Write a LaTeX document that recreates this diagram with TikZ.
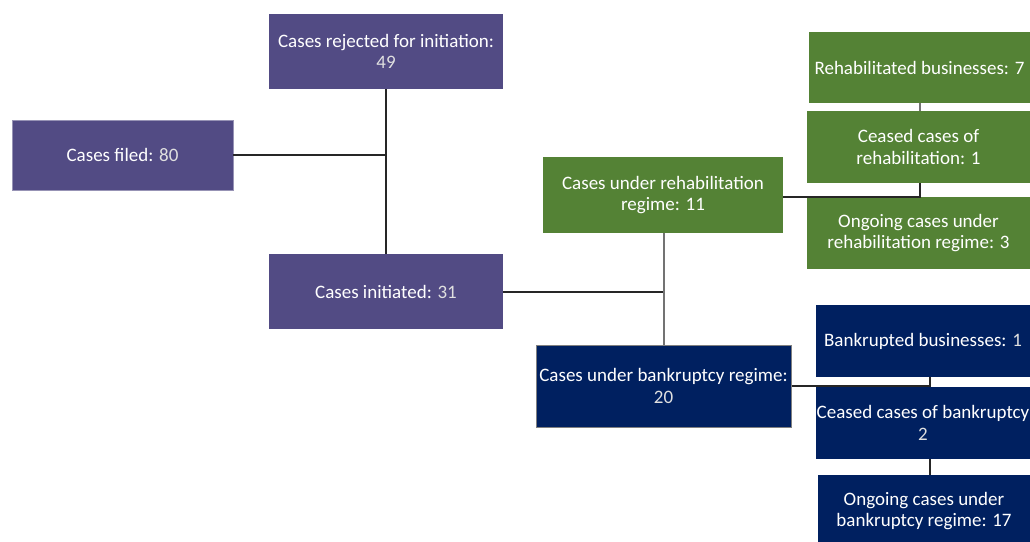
\documentclass[tikz,border=0pt]{standalone}
\usepackage{fontspec}
\setmainfont{Carlito}
\definecolor{cpurple}{HTML}{524B84}
\definecolor{cgreen}{HTML}{548235}
\definecolor{cnavy}{HTML}{002060}
\tikzset{
  box/.style={rectangle, inner sep=0pt, text=white, align=center,
    font=\fontsize{19}{21.5}\selectfont},
  pbox/.style={box, fill=cpurple},
  gbox/.style={box, fill=cgreen},
  nbox/.style={box, fill=cnavy},
  conn/.style={line width=1.3pt, black!85},
  gconn/.style={line width=1.3pt, black!55},
}
\newcommand{\num}[1]{\textcolor{white!88!black}{#1}}
\begin{document}
\begin{tikzpicture}[x=1pt,y=-1pt]
\useasboundingbox (0,0) rectangle (1030,541);
\node[pbox, minimum width=221pt, minimum height=70pt, draw=cpurple!60!white, line width=0.6pt] (filed) at (122.5,155) {Cases filed: \num{80}};
\node[pbox, minimum width=234pt, minimum height=75pt] (rej) at (386,51.5) {Cases rejected for initiation:\\\num{49}};
\node[pbox, minimum width=234pt, minimum height=75pt] (ini) at (386,291.5) {Cases initiated: \num{31}};
\node[gbox, minimum width=240pt, minimum height=76pt] (rehab) at (663,195) {Cases under rehabilitation\\regime: 11};
\node[nbox, minimum width=255pt, minimum height=82pt, draw=black!50, line width=1pt] (bank) at (663.5,386) {Cases under bankruptcy regime:\\\num{20}};
\node[gbox, minimum width=221pt, minimum height=71pt] (rehd) at (919.5,67.5) {Rehabilitated businesses: 7};
\node[gbox, minimum width=223pt, minimum height=72pt] (crehab) at (918.5,147) {Ceased cases of\\rehabilitation: 1};
\node[gbox, minimum width=223pt, minimum height=72pt] (orehab) at (918.5,233) {Ongoing cases under\\rehabilitation regime: 3};
\node[nbox, minimum width=214pt, minimum height=72pt] (bkd) at (923,341) {Bankrupted businesses: \num{1}};
\node[nbox, minimum width=214pt, minimum height=72pt] (cbank) at (923,423) {Ceased cases of bankruptcy\\\num{2}};
\node[nbox, minimum width=212pt, minimum height=72pt] (obank) at (924,511) {Ongoing cases under\\bankruptcy regime: 17};
\coordinate (j1) at (386,155);
\coordinate (j2) at (664,292);
\coordinate (j3) at (920,197);
\coordinate (j4) at (930,386);
\draw[conn] (filed.east) -- (j1);
\draw[conn] (rej.south) -- (ini.north);
\draw[conn] (ini.east |- j2) -- (j2);
\draw[gconn] (rehab.south -| j2) -- (bank.north -| j2);
\draw[conn] (rehab.east |- j3) -- (j3) -- (crehab.south -| j3);
\draw[gconn] (rehd.south -| j3) -- (crehab.north -| j3);
\draw[conn] (bank.east |- j4) -- (j4) -- (bkd.south -| j4);
\draw[conn] (cbank.south -| j4) -- (obank.north -| j4);
\end{tikzpicture}
\end{document}
